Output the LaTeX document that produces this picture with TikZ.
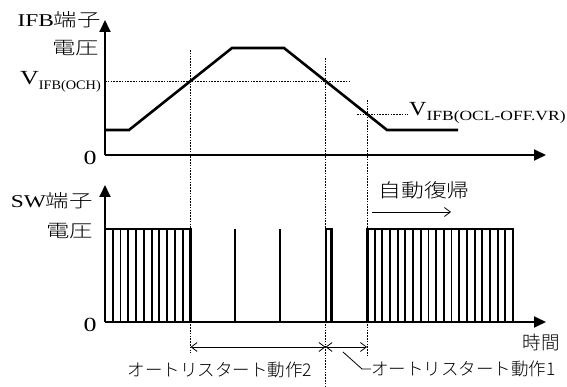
\documentclass[tikz,border=0pt]{standalone}
\usepackage{fontspec}
\usepackage{graphicx}
\setmainfont{Liberation Serif}
\newfontfamily\jp{Noto Sans CJK JP Light}
\usetikzlibrary{arrows.meta}
\newcommand{\hs}[1]{\scalebox{1.3}[1]{#1}}
\begin{document}
\begin{tikzpicture}[x=1pt,y=-1pt,
  axis/.style={line width=1.8pt,-{Triangle[length=12pt,width=11pt]}},
  curve/.style={line width=2.6pt,line join=miter},
  guide/.style={line width=0.7pt,dash pattern=on 1.6pt off 1.2pt},
  pulse/.style={line width=1.9pt},
  thickpulse/.style={line width=2.6pt},
  dim/.style={line width=0.8pt,{Straight Barb[length=6pt,width=9pt]}-{Straight Barb[length=6pt,width=9pt]}},
  onearrow/.style={line width=0.8pt,-{Straight Barb[length=6pt,width=9pt]}},
  lbl/.style={inner sep=0pt,font=\fontsize{18}{18}\selectfont},
  jlbl/.style={inner sep=0pt,font=\jp\fontsize{17.5}{17.5}\selectfont}]
\useasboundingbox (0,0) rectangle (567,387);

% ---- coordinates
\coordinate (o1) at (105,155);
\coordinate (y1) at (105,20);
\coordinate (x1) at (546,155);
\coordinate (o2) at (105,322);
\coordinate (y2) at (105,185);
\coordinate (x2) at (546,322);

% ---- guides
\draw[guide] (105,81) -- (350,81);
\draw[guide] (357,114) -- (408,114);
\draw[guide] (190.5,50) -- (190.5,353);
\draw[guide] (325.5,58) -- (325.5,387);
\draw[guide] (367,100) -- (367,355);

% ---- IFB waveform
\draw[curve] (105,130) -- (129,130) -- (232,48) -- (284,48) -- (387,130) -- (458,130);

% ---- SW waveform
\draw[pulse] (105,229) -- (190.5,229);
\foreach \i in {1,...,10} \draw[pulse] ({105+\i*85.5/11},229) -- ({105+\i*85.5/11},322);
\draw[thickpulse] (190.5,228) -- (190.5,322);
\draw[thickpulse] (190.5,322) -- (513,322);
\draw[pulse] (235,322) -- (235,229);
\draw[pulse] (280,322) -- (280,229);
\draw[pulse] (326,322) -- (326,229) -- (331.5,229);
\draw[thickpulse] (331.5,228) -- (331.5,322);
\draw[pulse] (367,229) -- (513,229);
\draw[thickpulse] (367.5,228) -- (367.5,322);
\foreach \i in {1,...,18} \draw[pulse] ({367+\i*146/19},229) -- ({367+\i*146/19},322);
\draw[pulse] (513,228) -- (513,322);

% ---- axes
\draw[axis] (o1) -- (y1);
\draw[axis] (o1) -- (x1);
\draw[axis] (o2) -- (y2);
\draw[axis] (o2) -- (x2);

% ---- labels top
\node[lbl,anchor=base east] (ifb) at (101,26.5) {\hs{IFB{\jp 端子}}};
\node[lbl,anchor=base east] (ifbv) at (99,55) {\hs{\jp 電圧}};
\node[lbl,anchor=base east] (voch) at (101,85) {\hs{\fontsize{20}{20}\selectfont V}\raisebox{-5pt}{\scalebox{1.1}[1]{\fontsize{13}{13}\selectfont IFB(OCH)}}};
\node[lbl,anchor=base west] (vocl) at (409,116) {\scalebox{1.2}[1]{\fontsize{20}{20}\selectfont V}\raisebox{-5pt}{\scalebox{1.25}[1]{\fontsize{14}{14}\selectfont IFB(OCL-OFF.VR)}}};
\node[lbl] (z1) at (90,157.5) {\hs{\fontsize{20}{20}\selectfont 0}};

% ---- labels bottom
\node[lbl,anchor=base east] (sw) at (93,208) {\hs{SW{\jp 端子}}};
\node[lbl,anchor=base east] (swv) at (93,237) {\hs{\jp 電圧}};
\node[lbl] (z2) at (90,324.5) {\hs{\fontsize{20}{20}\selectfont 0}};
\node[jlbl,font=\jp\fontsize{18.5}{18.5}\selectfont] (time) at (541,342) {時間};
\node[jlbl,font=\jp\fontsize{19}{19}\selectfont] (auto) at (424,190) {\scalebox{1.2}[1]{自動復帰}};
\coordinate (ar1) at (372,212);
\coordinate (ar2) at (451,212);
\draw[onearrow] (ar1) -- (ar2);

% ---- restart ranges
\coordinate (d1) at (190.5,347);
\coordinate (d2) at (325.5,347);
\coordinate (d3) at (367,347);
\draw[dim] (d1) -- (d2);
\draw[dim] (d2) -- (d3);
\node[jlbl] (r2) at (220,370) {オートリスタート動作2};
\node[jlbl,anchor=west] (r1) at (371,369) {オートリスタート動作1};
\coordinate (c1) at (343,352);
\coordinate (c2) at (362,369);
\draw[line width=0.8pt] (c1) -- (c2) -- (r1.west);
\end{tikzpicture}
\end{document}
